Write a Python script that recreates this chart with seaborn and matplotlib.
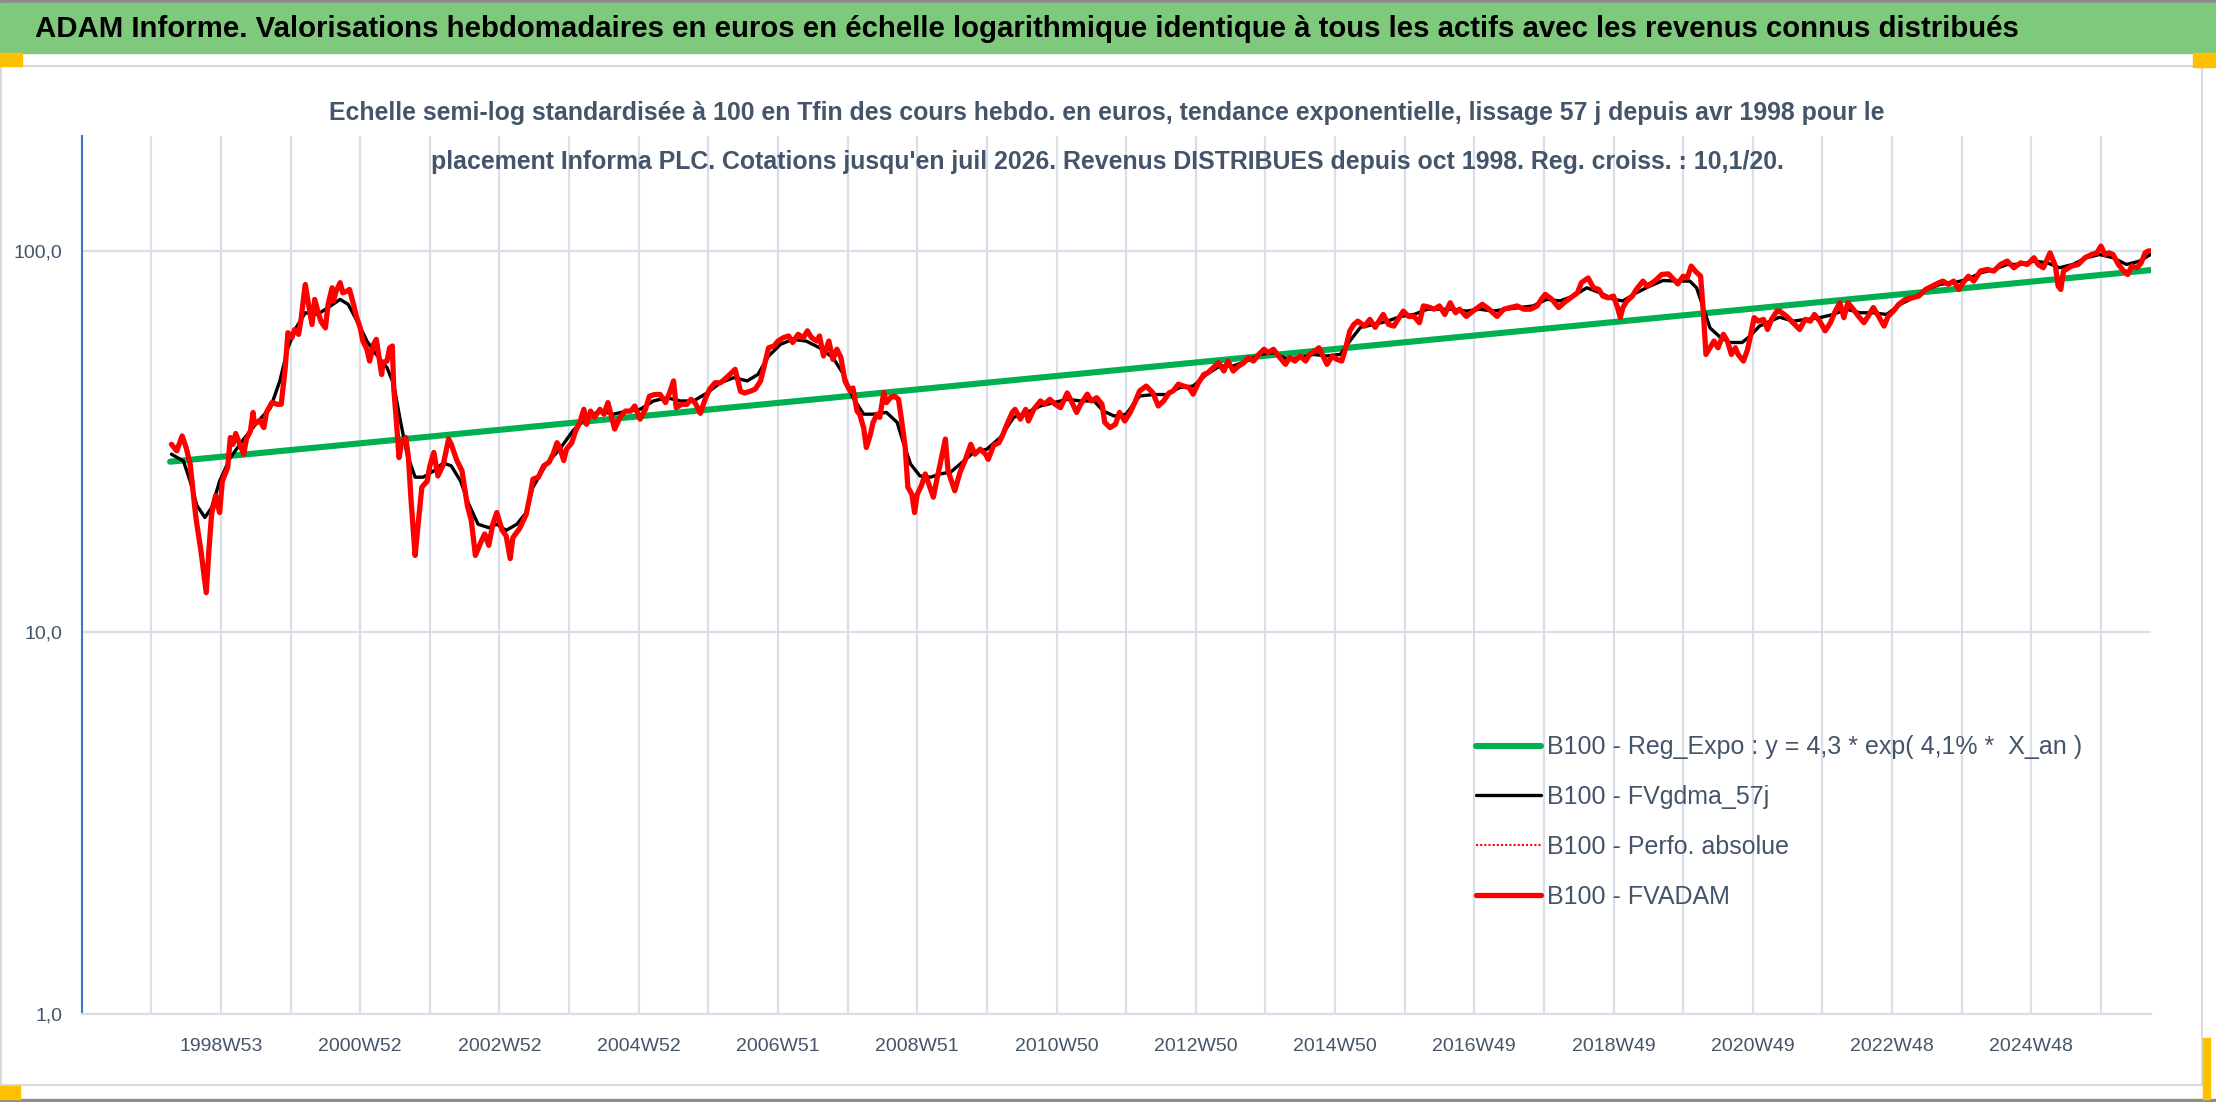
import numpy as np
import pandas as pd
import matplotlib
matplotlib.use("Agg")
import matplotlib.pyplot as plt
from matplotlib import font_manager
from matplotlib.lines import Line2D
from matplotlib.patches import Rectangle
import seaborn as sns

# semaines comptees depuis le bord gauche de l'axe (1998W53 = semaine 104)
weeks_adam = [67, 71, 75, 78, 81, 85, 86, 89, 93, 95, 97, 100, 103, 105, 109, 111, 113, 115, 118, 121,
              123, 126, 128, 129, 133, 136, 138, 142, 146, 149, 152, 154, 157, 159, 162, 164, 166, 167, 169, 172,
              174, 177, 179, 182, 184, 187, 188, 190, 193, 195, 198, 200, 203, 205, 208, 210, 213, 215, 218, 220,
              224, 225, 228, 230, 232, 233, 235, 237, 239, 242, 244, 246, 249, 251, 254, 258, 260, 263, 266, 270,
              274, 276, 280, 284, 288, 291, 294, 298, 301, 304, 307, 310, 314, 317, 320, 322, 327, 332, 335, 337,
              341, 345, 349, 352, 355, 357, 360, 362, 366, 369, 372, 375, 377, 380, 383, 387, 390, 393, 395, 398,
              402, 406, 410, 413, 417, 421, 424, 428, 432, 436, 439, 442, 444, 448, 452, 455, 458, 462, 466, 469,
              473, 477, 480, 484, 488, 492, 495, 499, 503, 507, 510, 513, 517, 520, 524, 528, 531, 535, 539, 542,
              545, 549, 551, 554, 558, 561, 564, 567, 570, 574, 576, 579, 581, 584, 586, 589, 591, 594, 596, 599,
              601, 604, 607, 610, 612, 615, 617, 620, 622, 624, 627, 630, 632, 636, 639, 641, 645, 647, 652, 656,
              660, 664, 667, 671, 675, 677, 681, 685, 688, 691, 695, 697, 701, 705, 707, 711, 716, 719, 723, 727,
              731, 736, 739, 743, 746, 751, 754, 758, 762, 764, 768, 772, 775, 779, 783, 787, 790, 795, 800, 804,
              808, 812, 815, 819, 823, 827, 830, 834, 838, 841, 845, 849, 853, 856, 860, 864, 868, 871, 875, 879,
              883, 886, 890, 894, 899, 902, 906, 910, 914, 917, 921, 924, 927, 930, 934, 937, 941, 944, 947, 950,
              953, 958, 962, 966, 968, 972, 976, 980, 983, 987, 991, 995, 999, 1002, 1006, 1010, 1014, 1018, 1022, 1026,
              1029, 1034, 1039, 1046, 1051, 1057, 1062, 1067, 1072, 1077, 1082, 1087, 1090, 1093, 1098, 1103, 1107, 1112, 1117, 1120,
              1125, 1129, 1133, 1136, 1140, 1144, 1147, 1149, 1151, 1154, 1158, 1161, 1166, 1169, 1173, 1176, 1180, 1185, 1189, 1192,
              1196, 1199, 1202, 1205, 1209, 1211, 1213, 1216, 1219, 1222, 1226, 1229, 1232, 1235, 1237, 1241, 1244, 1246, 1249, 1252,
              1256, 1259, 1262, 1266, 1268, 1273, 1278, 1283, 1287, 1291, 1294, 1298, 1302, 1306, 1309, 1313, 1316, 1319, 1323, 1327,
              1331, 1334, 1338, 1342, 1346, 1349, 1353, 1357, 1362, 1367, 1372, 1377, 1382, 1387, 1390, 1394, 1398, 1402, 1405, 1409,
              1413, 1418, 1423, 1428, 1433, 1438, 1443, 1448, 1453, 1458, 1461, 1465, 1470, 1474, 1476, 1478, 1480, 1482, 1486, 1491,
              1496, 1501, 1505, 1508, 1511, 1514, 1517, 1521, 1525, 1528, 1531, 1535, 1538, 1541, 1543, 1545]
fvadam = [31.1, 29.9, 32.7, 30.5, 27.6, 20.4, 19.2, 16.4, 12.7, 16.4, 20.4, 22.8, 20.6, 24.9, 27.0, 32.4, 31.1, 33.2, 31.1, 29.3,
          32.1, 33.7, 37.7, 35.1, 35.9, 34.4, 37.7, 40.0, 39.6, 39.6, 49.4, 61.0, 59.2, 62.2, 60.4, 66.8, 76.9, 81.6, 73.8, 64.1,
          74.6, 68.1, 65.0, 62.8, 72.4, 80.0, 73.8, 78.4, 82.5, 77.6, 78.4, 79.2, 72.4, 67.5, 62.8, 58.0, 55.2, 51.4, 56.9, 58.6,
          47.4, 51.0, 51.4, 55.7, 56.3, 43.8, 35.8, 28.7, 31.6, 32.4, 28.7, 22.1, 15.9, 18.8, 24.0, 24.9, 27.3, 29.6, 25.7, 27.5,
          32.1, 31.1, 28.3, 26.5, 21.5, 19.6, 15.9, 17.2, 18.1, 16.9, 19.2, 20.6, 18.5, 17.9, 15.6, 17.7, 18.7, 20.4, 23.0, 25.2,
          25.5, 27.3, 27.9, 29.3, 31.4, 30.5, 28.2, 30.2, 31.4, 33.8, 35.5, 38.4, 35.1, 38.0, 36.6, 38.4, 37.3, 40.0, 37.5, 34.1,
          36.6, 38.0, 38.0, 39.2, 36.2, 38.4, 41.6, 42.0, 42.0, 40.0, 42.4, 45.6, 38.8, 39.6, 39.6, 40.8, 40.0, 37.5, 41.2, 43.4,
          45.1, 45.1, 46.0, 47.4, 48.9, 42.8, 42.4, 42.8, 43.4, 45.6, 50.4, 55.7, 56.3, 58.0, 59.2, 59.8, 57.5, 60.4, 59.2, 61.7,
          59.2, 58.0, 59.8, 53.0, 58.0, 51.9, 55.2, 52.5, 45.6, 42.8, 43.7, 38.0, 37.3, 34.3, 30.5, 33.0, 35.5, 37.3, 36.6, 42.5,
          40.0, 41.2, 41.6, 40.8, 36.6, 30.5, 24.0, 23.0, 20.6, 23.0, 24.2, 26.0, 24.8, 22.6, 25.5, 27.5, 32.1, 26.5, 23.5, 26.3,
          28.4, 31.1, 29.3, 30.2, 29.3, 28.4, 30.9, 31.4, 33.0, 35.1, 37.7, 38.4, 36.2, 38.4, 35.8, 38.4, 40.4, 39.6, 40.8, 39.6,
          38.8, 42.4, 40.4, 37.7, 39.6, 42.1, 40.4, 41.2, 39.6, 35.5, 34.4, 35.1, 37.7, 35.8, 37.7, 40.4, 42.9, 44.2, 42.4, 39.2,
          40.4, 42.4, 42.9, 44.7, 44.2, 43.8, 42.1, 45.1, 47.4, 47.9, 49.4, 50.9, 48.4, 51.4, 48.4, 49.9, 50.9, 52.5, 51.4, 53.5,
          55.2, 54.1, 55.2, 52.9, 50.4, 52.5, 51.4, 53.0, 51.4, 53.5, 54.6, 55.7, 53.0, 50.4, 53.0, 52.0, 51.4, 55.7, 61.6, 64.1,
          65.4, 63.5, 66.1, 63.0, 64.8, 68.1, 64.1, 63.5, 66.1, 69.5, 67.3, 67.3, 64.8, 71.7, 71.2, 70.3, 71.7, 68.1, 73.1, 68.8,
          70.3, 67.3, 69.5, 72.4, 70.3, 67.3, 70.3, 71.0, 71.7, 70.3, 70.3, 71.7, 74.6, 76.9, 74.6, 71.0, 73.1, 75.3, 77.6, 82.5,
          84.9, 80.0, 79.2, 76.1, 75.3, 76.1, 71.0, 66.8, 71.0, 73.9, 76.1, 79.2, 83.3, 80.8, 82.5, 84.1, 86.7, 87.0, 84.1, 81.9,
          85.8, 84.9, 91.2, 88.5, 85.8, 69.5, 53.5, 55.7, 58.0, 55.7, 60.4, 58.0, 53.5, 55.7, 53.5, 51.4, 55.0, 59.2, 66.8, 65.4,
          66.1, 62.2, 66.1, 69.5, 69.5, 67.5, 64.8, 62.2, 66.1, 65.4, 68.1, 65.4, 61.7, 64.8, 68.8, 73.1, 66.8, 73.1, 70.3, 67.3,
          64.8, 67.3, 71.0, 67.3, 63.5, 67.3, 69.5, 72.4, 74.6, 75.3, 76.1, 79.2, 80.8, 82.5, 83.3, 81.7, 83.3, 79.2, 82.5, 85.8,
          83.3, 88.5, 89.4, 88.5, 92.1, 94.0, 90.3, 93.0, 92.1, 95.9, 92.1, 90.3, 98.8, 91.2, 80.8, 79.2, 88.5, 89.4, 91.2, 92.1,
          95.9, 97.8, 98.8, 102.9, 97.8, 98.8, 97.8, 92.1, 88.5, 86.7, 91.2, 90.3, 93.0, 98.8, 99.8, 100.0]

weeks_gdma = [67, 76, 81, 86, 92, 97, 103, 111, 121, 131, 141, 148, 154, 160, 167, 176, 184, 193, 199, 207,
              213, 220, 228, 233, 238, 243, 249, 255, 263, 270, 276, 283, 289, 296, 304, 310, 317, 325, 332, 337,
              347, 357, 367, 377, 387, 397, 407, 417, 427, 437, 447, 457, 467, 477, 487, 497, 505, 513, 522, 531,
              541, 551, 561, 569, 576, 584, 591, 601, 609, 614, 619, 626, 634, 641, 649, 656, 666, 676, 686, 696,
              706, 716, 726, 736, 746, 756, 763, 771, 780, 790, 800, 810, 820, 830, 840, 850, 860, 870, 880, 890,
              900, 910, 920, 930, 940, 947, 955, 965, 975, 985, 995, 1005, 1014, 1024, 1034, 1044, 1054, 1064, 1074, 1084,
              1094, 1104, 1114, 1124, 1134, 1144, 1151, 1161, 1171, 1181, 1191, 1201, 1206, 1211, 1216, 1224, 1231, 1240, 1246, 1253,
              1261, 1268, 1278, 1288, 1298, 1308, 1318, 1328, 1338, 1348, 1358, 1368, 1378, 1388, 1398, 1408, 1418, 1428, 1438, 1448,
              1458, 1468, 1477, 1487, 1497, 1507, 1517, 1527, 1537, 1545]
fvgdma = [29.3, 28.1, 24.9, 21.5, 20.0, 21.2, 24.9, 28.7, 32.1, 35.5, 38.8, 45.6, 55.7, 62.8, 68.8, 68.1, 71.0, 74.6, 72.4, 64.1,
          58.0, 53.5, 49.4, 44.7, 35.8, 29.3, 25.5, 25.5, 26.5, 27.8, 27.3, 24.9, 21.7, 19.2, 18.8, 19.2, 18.5, 19.2, 20.6, 24.0,
          27.6, 30.2, 33.8, 36.6, 38.0, 37.3, 38.0, 38.4, 40.4, 41.2, 40.4, 40.4, 42.4, 45.1, 46.5, 45.6, 47.4, 53.0, 56.9, 58.6,
          58.0, 55.7, 52.5, 47.4, 41.2, 37.3, 37.3, 37.7, 35.5, 31.1, 27.6, 25.7, 25.5, 26.0, 26.3, 27.6, 29.6, 30.2, 32.4, 36.6,
          37.7, 39.2, 40.0, 40.8, 40.4, 40.4, 38.0, 36.9, 37.3, 41.6, 42.0, 42.0, 43.8, 44.2, 47.4, 49.9, 49.9, 51.4, 53.5, 54.1,
          52.0, 52.5, 53.5, 53.0, 53.5, 58.0, 63.0, 64.1, 65.4, 67.3, 68.1, 70.3, 70.3, 70.3, 69.5, 70.3, 69.5, 70.3, 71.0, 71.7,
          74.6, 73.9, 76.1, 80.0, 77.6, 74.6, 73.9, 77.6, 80.8, 83.6, 83.3, 83.3, 80.0, 71.0, 62.8, 59.2, 57.5, 57.5, 59.8, 63.5,
          65.4, 67.0, 65.4, 66.1, 66.8, 68.1, 70.3, 68.8, 68.8, 68.1, 72.4, 75.3, 79.2, 81.7, 82.5, 84.1, 87.5, 89.4, 92.1, 92.1,
          94.0, 93.0, 90.3, 92.1, 95.9, 97.8, 95.9, 92.1, 94.0, 97.8]

# regression exponentielle : extremites
weeks_reg = [66, 1545]
reg_expo = [28.0, 89.0]

tick_weeks = [104, 208, 312, 416, 520, 624, 728, 832, 936, 1040, 1144, 1248, 1352, 1456]
tick_labels = ["1998W53", "2000W52", "2002W52", "2004W52", "2006W51", "2008W51", "2010W50",
               "2012W50", "2014W50", "2016W49", "2018W49", "2020W49", "2022W48", "2024W48"]

legend_labels = ["B100 - Reg_Expo : y = 4,3 * exp( 4,1% *  X_an )", "B100 - FVgdma_57j",
                 "B100 - Perfo. absolue", "B100 - FVADAM"]

title = ("ADAM Informe. Valorisations hebdomadaires en euros en échelle logarithmique "
         "identique à tous les actifs avec les revenus connus distribués")
subtitle_1 = ("Echelle semi-log standardisée à 100 en Tfin des cours hebdo. en euros, tendance "
              "exponentielle, lissage 57 j depuis avr 1998 pour le")
subtitle_2 = ("placement Informa PLC. Cotations jusqu'en juil 2026. Revenus DISTRIBUES depuis "
              "oct 1998. Reg. croiss. : 10,1/20.")

GREEN = "#00b050"
RED = "#ff0000"
TEXT = "#44546a"
GRID = "#d9dee8"

sns.set_style("white")
installed = {f.name for f in font_manager.fontManager.ttflist}
narrow = "Liberation Sans Narrow" if "Liberation Sans Narrow" in installed else "Liberation Sans"
plt.rcParams["font.family"] = [narrow, "DejaVu Sans"]

W, H = 2216, 1102
fig = plt.figure(figsize=(W / 100, H / 100), dpi=100)
fig.patch.set_facecolor("white")


def px_rect(x0, y0, x1, y1, **kw):
    fig.add_artist(Rectangle((x0 / W, 1 - y1 / H), (x1 - x0) / W, (y1 - y0) / H,
                             transform=fig.transFigure, **kw))


# cadre facon capture Excel
px_rect(0, 0, W, 3, color="#8c8c8c", zorder=0)
px_rect(0, 3, W, 53, color="#7fc97c", zorder=0)
px_rect(1, 66, 2202, 1085, facecolor="white", edgecolor="#d9d9d9", lw=1.5, zorder=0)
px_rect(0, 1099, W, H, color="#8c8c8c", zorder=0)
for r in [(0, 53, 22, 66), (2193, 53, W, 67), (0, 1086, 20, 1099), (2203, 1038, 2210, 1099)]:
    px_rect(*r, color="#ffc000", zorder=1)

fig.text(35 / W, 1 - 29 / H, title, ha="left", va="center", fontsize=21.2,
         fontweight="bold", color="black")
fig.text(1107 / W, 1 - 113 / H, subtitle_1, ha="center", va="center", fontsize=17.9,
         fontweight="bold", color=TEXT)
fig.text(1107 / W, 1 - 162 / H, subtitle_2, ha="center", va="center", fontsize=17.9,
         fontweight="bold", color=TEXT)

ax = fig.add_axes([81.7 / W, 1 - 1013.7 / H, (2150.5 - 81.7) / W, (1013.7 - 136) / H])
ax.set_facecolor("none")

df_reg = pd.DataFrame({"semaine": weeks_reg, "valeur": reg_expo})
df_gdma = pd.DataFrame({"semaine": weeks_gdma, "valeur": fvgdma})
df_adam = pd.DataFrame({"semaine": weeks_adam, "valeur": fvadam})

sns.lineplot(data=df_reg, x="semaine", y="valeur", ax=ax, color=GREEN, lw=4.4,
             estimator=None, zorder=2, legend=False)
sns.lineplot(data=df_gdma, x="semaine", y="valeur", ax=ax, color="black", lw=2.4,
             estimator=None, zorder=3, legend=False)
sns.lineplot(data=df_adam, x="semaine", y="valeur", ax=ax, color=RED, lw=1.2,
             linestyle=(0, (1, 1)), estimator=None, zorder=3.5, legend=False)
sns.lineplot(data=df_adam, x="semaine", y="valeur", ax=ax, color=RED, lw=3.8,
             estimator=None, zorder=4, legend=False)

ax.set_yscale("log")
ax.set_ylim(1, 200)
ax.set_xlim(0, 1545)
ax.set_yticks([1, 10, 100])
ax.set_yticklabels(["1,0", "10,0", "100,0"])
ax.yaxis.set_minor_locator(matplotlib.ticker.NullLocator())
ax.set_xticks(tick_weeks)
ax.set_xticklabels(tick_labels)
ax.set_xticks(np.arange(0, 1545, 52), minor=True)
ax.set_xlabel("")
ax.set_ylabel("")

ax.grid(True, which="both", axis="x", color=GRID, lw=1.6)
ax.grid(True, which="major", axis="y", color=GRID, lw=1.6)
ax.set_axisbelow(True)
for side in ["top", "right"]:
    ax.spines[side].set_visible(False)
ax.spines["left"].set_color("#4472c4")
ax.spines["left"].set_linewidth(1.5)
ax.spines["bottom"].set_color(GRID)
ax.spines["bottom"].set_linewidth(1.6)

ax.tick_params(axis="y", length=0, pad=14, labelsize=14, labelcolor=TEXT)
ax.tick_params(axis="x", which="both", direction="out", length=6, width=1.6, color=GRID)
ax.tick_params(axis="x", which="major", pad=11.5, labelsize=14, labelcolor=TEXT)

handles = [Line2D([], [], color=GREEN, lw=4.4),
           Line2D([], [], color="black", lw=2.4),
           Line2D([], [], color=RED, lw=1.5, linestyle=(0, (1, 1))),
           Line2D([], [], color=RED, lw=3.8)]
fig.legend(handles, legend_labels, loc="center left", bbox_to_anchor=(1476 / W, 1 - 822 / H),
           frameon=False, fontsize=18, labelcolor=TEXT, handlelength=2.6, handletextpad=0.25,
           labelspacing=1.03, borderpad=0, borderaxespad=0)

fig.savefig("out.png", dpi=100, facecolor="white")
